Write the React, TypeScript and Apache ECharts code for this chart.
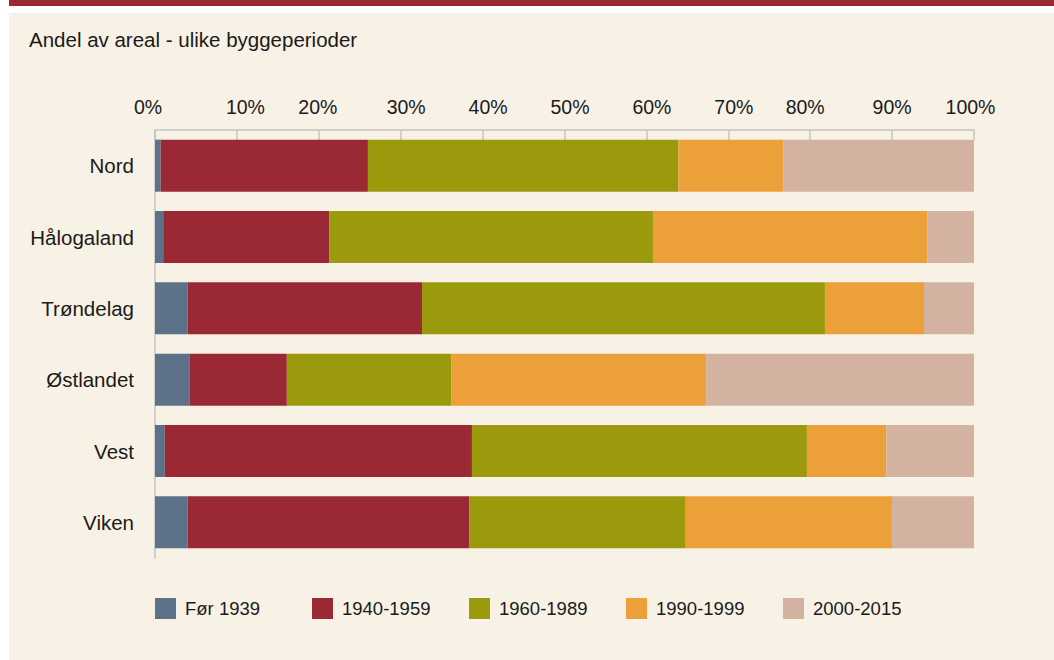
import React, { useEffect, useRef } from "react";
import * as echarts from "echarts";

const categories = ["Nord", "Hålogaland", "Trøndelag", "Østlandet", "Vest", "Viken"];
const seriesNames = ["Før 1939", "1940-1959", "1960-1989", "1990-1999", "2000-2015"];
const before1939 = [0.7, 1.0, 4.0, 4.2, 1.2, 4.0];
const p1940to1959 = [25.3, 20.3, 28.6, 11.9, 37.5, 34.4];
const p1960to1989 = [37.9, 39.5, 49.2, 20.1, 40.9, 26.4];
const p1990to1999 = [12.8, 33.5, 12.1, 31.1, 9.7, 25.2];
const p2000to2015 = [23.3, 5.7, 6.1, 32.7, 10.7, 10.0];
const seriesValues = [before1939, p1940to1959, p1960to1989, p1990to1999, p2000to2015];
const colors = ["#5d7288", "#9b2935", "#9b9a0c", "#eba03a", "#d3b2a2"];
const legendLefts = [155, 312, 469, 626, 783];
// horizontal shift (px) of each tick label as drawn in the reference
const tickLabelShift: Record<number, number> = {
  0: -7, 10: 8.5, 20: -1, 30: 5.5, 40: 5.5, 50: 5.5, 60: 5.5, 70: 5.5, 80: -5, 90: 0, 100: -3.5,
};

const FONT = "'Liberation Sans', Arial, Helvetica, sans-serif";

export default function App() {
  const ref = useRef<HTMLDivElement>(null);
  useEffect(() => {
    if (!ref.current) return;
    const chart = echarts.init(ref.current, undefined, { renderer: "svg" });
    const rich: Record<string, any> = {};
    Object.keys(tickLabelShift).forEach((k) => {
      const s = tickLabelShift[Number(k)];
      rich["t" + k] = {
        fontSize: 19.5,
        fontFamily: FONT,
        color: "#1a1a1a",
        padding: s >= 0 ? [0, 0, 0, 2 * s] : [0, -2 * s, 0, 0],
      };
    });
    chart.setOption({
      animation: false,
      backgroundColor: "#ffffff",
      textStyle: { fontFamily: FONT },
      graphic: [
        { type: "rect", z: -10, shape: { x: 9, y: 0, width: 1045, height: 6 }, style: { fill: "#9b2835" } },
        { type: "rect", z: -10, shape: { x: 9, y: 13, width: 1045, height: 647 }, style: { fill: "#f8f1e5" } },
      ],
      title: {
        text: "Andel av areal - ulike byggeperioder",
        left: 29,
        top: 29,
        padding: 0,
        textStyle: { fontSize: 20.5, fontWeight: "normal", color: "#1a1a1a", fontFamily: FONT },
      },
      legend: seriesNames.map((n, i) => ({
        data: [n],
        left: legendLefts[i],
        top: 598,
        padding: 0,
        itemWidth: 21,
        itemHeight: 21,
        icon: "rect",
        selectedMode: false,
        textStyle: { fontSize: 18.5, color: "#1a1a1a", fontFamily: FONT, padding: [0, 0, 0, 4] },
      })),
      grid: { left: 155, right: 80, top: 130, bottom: 102, containLabel: false },
      xAxis: {
        type: "value",
        position: "top",
        min: 0,
        max: 100,
        interval: 10,
        axisLine: { show: true, lineStyle: { color: "#c3c3c3", width: 1.5 } },
        axisTick: { show: true, inside: true, length: 10, lineStyle: { color: "#c3c3c3", width: 1.5 } },
        splitLine: { show: false },
        axisLabel: {
          margin: 13,
          formatter: (v: number) => `{t${v}|${v}%}`,
          rich,
        },
      },
      yAxis: {
        type: "category",
        data: categories,
        inverse: true,
        axisLine: { show: true, lineStyle: { color: "#c3c3c3", width: 1.5 } },
        axisTick: { show: false },
        axisLabel: { margin: 21, fontSize: 20.5, color: "#1a1a1a", fontFamily: FONT, padding: [0, 0, 2, 0] },
      },
      series: seriesNames.map((n, i) => ({
        name: n,
        type: "bar",
        stack: "total",
        barWidth: 52,
        itemStyle: { color: colors[i] },
        emphasis: { disabled: true },
        data: seriesValues[i],
      })),
    });
    return () => chart.dispose();
  }, []);
  return (
    <div
      ref={ref}
      style={{ position: "absolute", left: 0, top: 0, width: 1054, height: 660 }}
    />
  );
}
